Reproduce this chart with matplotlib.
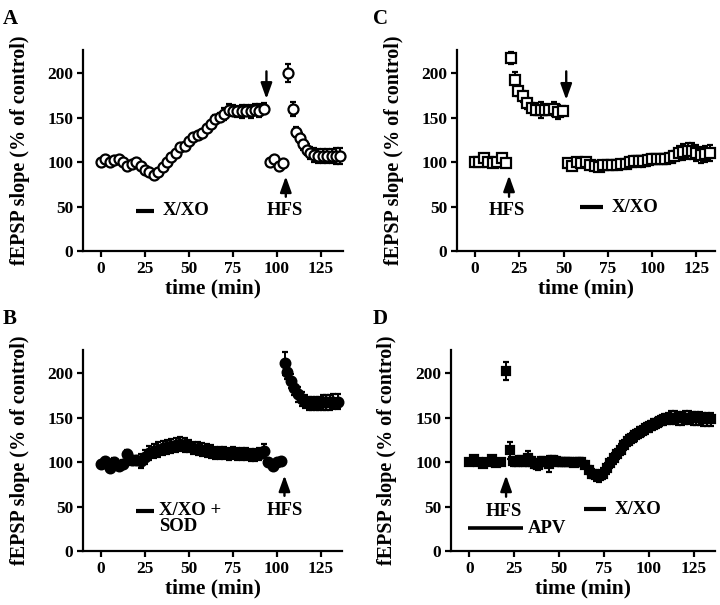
import matplotlib
matplotlib.use("Agg")
import matplotlib.pyplot as plt

plt.rcParams['font.family'] = ['Liberation Serif', 'DejaVu Serif']
plt.rcParams['font.weight'] = 'bold'

# ---- panel A: X/XO then HFS (open circles)
tA_base = [0, 2.5, 5, 7.5, 10, 12.5, 15, 17.5, 20, 22.5, 25, 27.5, 30, 32.5, 35, 37.5, 40, 42.5, 45,
           47.5, 50, 52.5, 55, 57.5, 60, 62.5, 65, 67.5, 70, 72.5, 75, 77.5, 80, 82.5, 85, 87.5, 90, 92.5]
vA_base = [100, 104, 100, 102, 103, 100, 96, 98, 100, 96,
           91, 89, 85, 89, 94, 100, 106, 110, 117, 118,
           124, 128, 130, 133, 138, 143, 148, 151, 154, 159,
           158, 157, 157, 158, 157, 159, 158, 160]
eA_base = [2, 2, 2, 2, 2, 2, 2, 2, 3, 3,
           4, 4, 3, 3, 3, 3, 3, 3, 3, 3,
           3, 3, 3, 3, 3, 3, 5, 4, 7, 6,
           6, 6, 7, 6, 7, 6, 7, 6]
tA_pre = [96, 98.5, 101, 103.5]
vA_pre = [100, 104, 96, 99]
eA_pre = [2, 2, 2, 2]
tA_post = [106.5, 109, 111, 113, 115, 117, 119, 121, 123.5, 126, 128.5, 131, 133.5, 136]
vA_post = [200, 160, 134, 127, 120, 114, 110, 108, 107, 107, 107, 107, 107, 107]
eA_post = [10, 8, 6, 6, 6, 6, 7, 8, 8, 8, 8, 8, 9, 9]

# ---- panel B: X/XO + SOD then HFS (filled circles)
tB_base = [0, 2.5, 5, 7.5, 10, 12.5, 15, 17.5, 20, 22.5, 25, 27.5, 30, 32.5, 35, 37.5, 40, 42.5, 45,
           47.5, 50, 52.5, 55, 57.5, 60, 62.5, 65, 67.5, 70, 72.5, 75, 77.5, 80, 82.5, 85, 87.5, 90,
           92.5, 95, 97.5, 100, 102.5]
vB_base = [98, 101, 93, 100, 95, 98, 109, 102, 102, 101,
           106, 110, 112, 114, 116, 117, 118, 119, 120, 119,
           118, 116, 115, 114, 113, 112, 110, 110, 110, 109,
           110, 109, 109, 109, 108, 108, 109, 112, 100, 96,
           100, 101]
eB_base = [3, 3, 3, 4, 4, 4, 4, 5, 5, 8,
           8, 8, 8, 8, 8, 8, 8, 8, 8, 8,
           7, 7, 7, 7, 7, 7, 7, 7, 7, 7,
           7, 7, 7, 7, 7, 7, 7, 8, 3, 3,
           2, 2]
tB_post = [104.5, 106, 108, 110, 112, 114, 116, 118, 120, 122, 124, 126, 128, 130, 132, 134.5]
vB_post = [211, 201, 191, 183, 176, 171, 168, 166, 166, 166, 166, 167, 167, 167, 168, 168]
eB_post = [13, 8, 8, 8, 8, 8, 7, 7, 7, 7, 7, 8, 8, 8, 8, 8]

# ---- panel C: HFS then X/XO (open squares)
tC_base = [0, 2.5, 5, 7.5, 10, 12.5, 15, 17.5]
vC_base = [100, 100, 105, 100, 98.5, 100, 105, 98.5]
eC_base = [2, 2, 2, 2, 2, 2, 2, 2]
tC_ltp = [20.5, 22.5, 24.5, 27, 29.5, 32, 34.5, 37, 39.5, 42, 44.5, 47, 49.5]
vC_ltp = [217, 192, 180, 174, 166, 161, 159, 159, 159, 159, 160, 156, 158]
eC_ltp = [7, 9, 6, 6, 6, 5, 6, 9, 6, 5, 8, 8, 5]
tC_xo = [52.5, 55, 57.5, 60, 62.5, 65, 67.5, 70, 72.5, 75, 77.5, 80, 82.5, 85, 87.5, 90, 92.5,
         95, 97.5, 100, 102.5, 105, 107.5, 110, 112.5, 115, 117.5, 120, 122.5, 125, 127.5, 130, 132.5]
vC_xo = [99, 96, 100, 99, 100, 97, 96, 95, 97, 97,
         97, 97, 98, 98, 100, 101, 101, 101, 102, 104,
         103, 104, 103, 105, 107, 110, 111, 112, 112, 110,
         108, 109, 110]
eC_xo = [3, 3, 3, 3, 3, 3, 3, 3, 3, 3,
         3, 3, 4, 5, 5, 6, 6, 6, 6, 5,
         5, 5, 5, 5, 6, 8, 9, 9, 9, 9,
         9, 9, 9]

# ---- panel D: HFS in APV, then X/XO (filled squares)
tD_base = [0, 2.5, 5, 7.5, 10, 12.5, 15, 17.5, 20.5]
vD_base = [100, 103, 100, 98, 100, 103, 99, 100, 202]
eD_base = [2, 2, 2, 2, 2, 2, 2, 2, 10]
tD_post = [22.5, 24.5, 26.5, 28.5, 30.5, 32.5, 34.5, 36.5, 38.5, 40.5, 42.5, 44.5, 46.5, 48.5,
           50.5, 52.5, 54.5, 56.5, 58.5, 60.5, 62.5, 64.5, 66.5, 68.5, 70.5, 72.5, 74.5, 76.5,
           78.5, 80.5, 82.5, 84.5, 86.5, 88.5, 90.5, 92.5, 94.5, 96.5, 98.5, 100.5, 102.5, 104.5,
           106.5, 108.5, 110.5, 112.5, 114.5, 116.5, 118.5, 120.5, 122.5, 124.5, 126.5, 128.5,
           130.5, 132.5, 134.5]
vD_post = [113, 101, 100, 102, 100, 104, 101, 98, 97, 101,
           100, 98, 102, 101, 100, 100, 100, 100, 99, 100,
           100, 97, 91, 87, 85, 84, 87, 93, 99, 104,
           109, 114, 119, 124, 127, 130, 133, 135, 138, 140,
           142, 144, 146, 148, 149, 150, 150, 149, 149, 150,
           150, 149, 149, 149, 148, 148, 148]
eD_post = [10, 5, 5, 5, 5, 8, 5, 5, 6, 5,
           5, 9, 5, 5, 4, 4, 4, 4, 4, 4,
           4, 4, 5, 5, 6, 6, 6, 6, 6, 6,
           6, 6, 6, 6, 6, 6, 6, 6, 6, 6,
           6, 6, 6, 6, 6, 7, 7, 7, 7, 7,
           7, 7, 7, 7, 7, 7, 7]

xticks = [0, 25, 50, 75, 100, 125]
yticks = [0, 50, 100, 150, 200]
ylabel = 'fEPSP slope (% of control)'
xlabel = 'time (min)'


def style_axis(ax, xmax):
    ax.set_xlim(-10.2, xmax)
    ax.set_ylim(0, 226)
    ax.set_xticks(xticks)
    ax.set_yticks(yticks)
    for s in ['top', 'right']:
        ax.spines[s].set_visible(False)
    for s in ['left', 'bottom']:
        ax.spines[s].set_linewidth(1.6)
    ax.tick_params(direction='out', length=4, width=1.6, labelsize=12.5, pad=3)
    ax.set_ylabel(ylabel, fontsize=14.5, fontweight='bold')
    ax.yaxis.set_label_coords(-0.205, 0.5)
    ax.set_xlabel(xlabel, fontsize=15.5, fontweight='bold', labelpad=1)


def series(ax, t, v, e, marker, filled, ms):
    ax.errorbar(t, v, yerr=e, fmt=marker, ms=ms, mfc='k' if filled else 'white', mec='k',
                mew=1.6, ecolor='k', elinewidth=1.4, capsize=2.5, capthick=1.5, clip_on=False, zorder=3)


def arrow(ax, x, y0, y1):
    ax.annotate('', xy=(x, y1), xytext=(x, y0),
                arrowprops=dict(arrowstyle='-|>,head_width=0.34,head_length=0.95', lw=1.7,
                                color='k', shrinkA=0, shrinkB=0), annotation_clip=False)


def bar(ax, x0, x1, y, lw=3):
    ax.plot([x0, x1], [y, y], color='k', lw=lw, solid_capstyle='butt', clip_on=False)


fig = plt.figure(figsize=(7.2, 6.05), dpi=100)
axA = fig.add_axes([0.1153, 0.5851, 0.3611, 0.3322])
axC = fig.add_axes([0.6347, 0.5851, 0.3583, 0.3322])
axB = fig.add_axes([0.1153, 0.0893, 0.3597, 0.3322])
axD = fig.add_axes([0.6264, 0.0893, 0.3667, 0.3322])

# A
style_axis(axA, 137.5)
series(axA, tA_base, vA_base, eA_base, 'o', False, 7.2)
series(axA, tA_pre, vA_pre, eA_pre, 'o', False, 7.2)
series(axA, tA_post, vA_post, eA_post, 'o', False, 7.2)
arrow(axA, 94, 202, 171)
arrow(axA, 105, 61, 84)
bar(axA, 19.8, 30, 45)
axA.text(35, 45, 'X/XO', fontsize=13.5, fontweight='bold', va='center', ha='left')
axA.text(104.5, 45, 'HFS', fontsize=13.5, fontweight='bold', va='center', ha='center')

# B
style_axis(axB, 137)
series(axB, tB_base, vB_base, eB_base, 'o', True, 7)
series(axB, tB_post, vB_post, eB_post, 'o', True, 7)
arrow(axB, 104.3, 62, 85)
bar(axB, 19.8, 30, 45)
axB.text(33, 45, 'X/XO +', fontsize=13.5, fontweight='bold', va='center', ha='left')
axB.text(33, 27, 'SOD', fontsize=13.5, fontweight='bold', va='center', ha='left')
axB.text(104.5, 45, 'HFS', fontsize=13.5, fontweight='bold', va='center', ha='center')

# C
style_axis(axC, 135.5)
series(axC, tC_base, vC_base, eC_base, 's', False, 6.6)
series(axC, tC_ltp, vC_ltp, eC_ltp, 's', False, 6.6)
series(axC, tC_xo, vC_xo, eC_xo, 's', False, 6.6)
arrow(axC, 19.2, 61, 85)
arrow(axC, 51.5, 202, 170)
bar(axC, 59, 72, 49)
axC.text(77, 49, 'X/XO', fontsize=13.5, fontweight='bold', va='center', ha='left')
axC.text(18, 45, 'HFS', fontsize=13.5, fontweight='bold', va='center', ha='center')

# D
style_axis(axD, 137)
series(axD, tD_base, vD_base, eD_base, 's', True, 6.3)
series(axD, tD_post, vD_post, eD_post, 's', True, 6.3)
arrow(axD, 20.5, 61, 85)
bar(axD, -1, 30, 26, lw=2.6)
bar(axD, 63.7, 76, 47)
axD.text(19.5, 44, 'HFS', fontsize=13.5, fontweight='bold', va='center', ha='center')
axD.text(32.5, 25, 'APV', fontsize=13.5, fontweight='bold', va='center', ha='left')
axD.text(81, 47, 'X/XO', fontsize=13.5, fontweight='bold', va='center', ha='left')

for lab, x, y in [('A', 0.004, 0.985), ('B', 0.004, 0.49), ('C', 0.518, 0.985), ('D', 0.518, 0.49)]:
    fig.text(x, y, lab, fontsize=15, fontweight='bold', va='top', ha='left')

fig.savefig('out.png', dpi=100)
